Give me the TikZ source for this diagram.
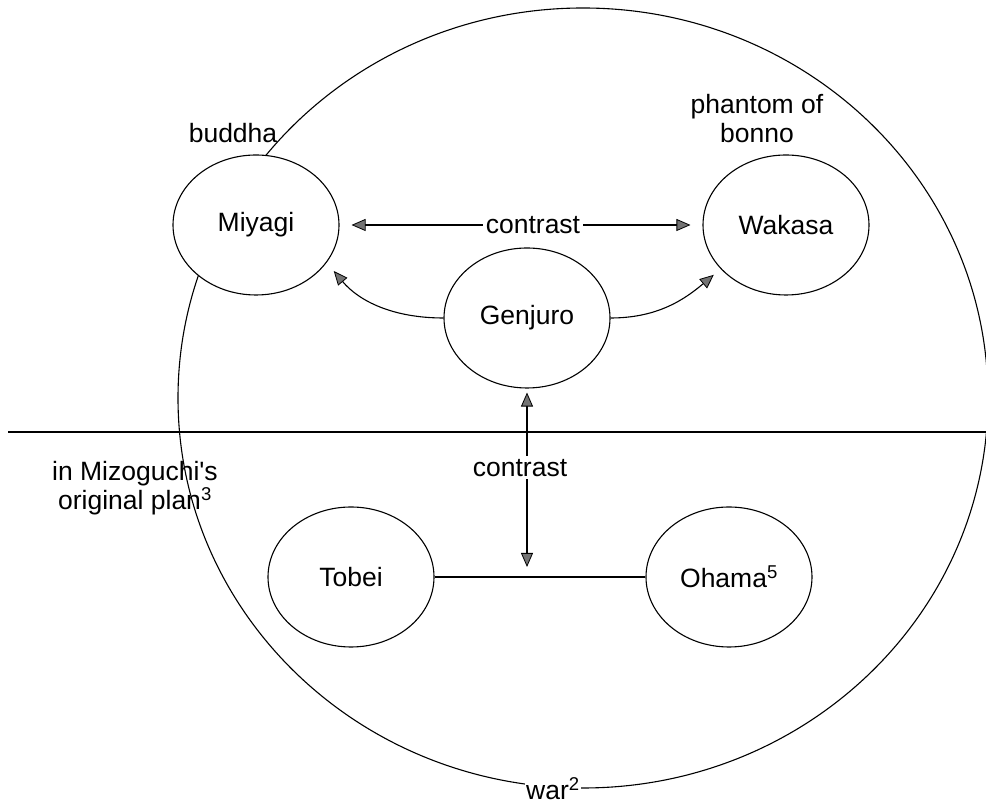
\documentclass[tikz,border=0pt]{standalone}
\usepackage{fontspec}
\setmainfont{Liberation Sans}[Ligatures=TeXOff]
\usetikzlibrary{shapes.geometric,arrows.meta}

\tikzset{
  person/.style={ellipse, draw, fill=white, line width=1.1pt, minimum width=166pt, minimum height=140pt, inner sep=0pt},
  label text/.style={inner sep=1pt, align=center},
  gap/.style={fill=white, inner sep=3pt},
  link/.style={line width=1.1pt},
  headtip/.tip={Triangle[length=14pt, width=12pt, fill=black!55, line width=0.8pt]},
  arr/.style={link, -headtip},
  biarr/.style={link, headtip-headtip},
}

\begin{document}
\begin{tikzpicture}[x=1pt, y=1pt, font=\fontsize{26.5}{29}\selectfont]
  \useasboundingbox (0,0) rectangle (986,805);

  % the enclosing "war" region and the dividing line
  \node[ellipse, draw, line width=1.1pt, minimum width=810pt, minimum height=780pt, inner sep=0pt] (war) at (583,407) {};
  \coordinate (divL) at (8,373);
  \coordinate (divR) at (986,373);
  \draw[link] (divL) -- (divR);

  % characters
  \node[person] (miyagi)  at (256,580) {Miyagi};
  \node[person] (wakasa)  at (786,580) {Wakasa};
  \node[person] (genjuro) at (527,487) {Genjuro};
  \node[person] (tobei)   at (351,228) {Tobei};
  \node[person] (ohama)   at (729,228) {Ohama\textsuperscript{5}};

  % captions
  \node[label text] (buddha)  at (233,672) {buddha};
  \node[label text] (phantom) at (757,686) {phantom of\\bonno};
  \node[label text] (plan)    at (135,317) {in Mizoguchi's\\original plan\textsuperscript{3}};
  \node[gap, inner sep=1pt, anchor=base] (warlabel) at (553,5) {war\textsuperscript{2}};

  % relations
  \draw[biarr, shorten <=12pt, shorten >=12pt] (miyagi.east) -- node[gap, pos=0.533] {contrast} (wakasa.west);
  \draw[arr, shorten >=11pt] (genjuro.west) to[out=180, in=-50] (miyagi.-28);
  \draw[arr, shorten >=9pt] (genjuro.east) to[out=0, in=-140] (wakasa.214);

  \coordinate (mid) at (genjuro |- tobei);
  \draw[link] (tobei.east) -- (ohama.west);
  \draw[biarr, shorten <=4pt, shorten >=10pt] (genjuro.south) -- node[gap, pos=0.42, xshift=-7pt] {contrast} (mid);
\end{tikzpicture}
\end{document}
